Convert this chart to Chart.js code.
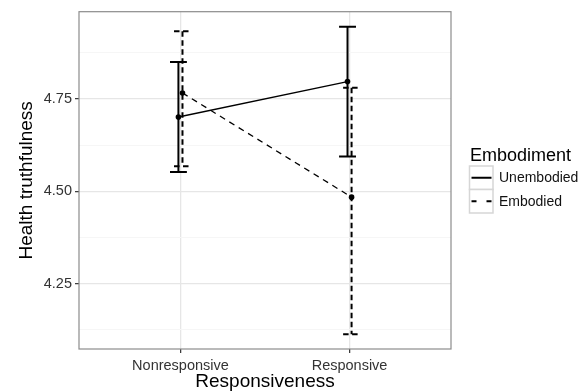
<!DOCTYPE html>
<html>
<head>
<meta charset="utf-8">
<script src="https://cdn.jsdelivr.net/npm/chart.js@4.4.1/dist/chart.umd.min.js"></script>
<style>
  html, body { margin: 0; padding: 0; background: #ffffff; }
  #wrap { width: 586px; height: 391px; }
</style>
</head>
<body>
<div id="wrap"><canvas id="c" width="586" height="391"></canvas></div>
<script>
// ---- data ----
const categories = ['Nonresponsive', 'Responsive'];
const seriesNames = ['Unembodied', 'Embodied'];
const unembodiedMean = [4.701, 4.797];
const unembodiedLow  = [4.552, 4.594];
const unembodiedHigh = [4.850, 4.945];
const embodiedMean   = [4.766, 4.484];
const embodiedLow    = [4.568, 4.113];
const embodiedHigh   = [4.933, 4.780];
const yTicks      = [4.25, 4.50, 4.75];
const yMinorTicks = [4.125, 4.375, 4.625, 4.875];
const legendTitle = 'Embodiment';
const xTitle = 'Responsiveness';
const yTitle = 'Health truthfulness';

// ---- style constants ----
const FONT = "'Liberation Sans', Arial, Helvetica, sans-serif";
const DODGE = 0.012;
const CAP_HALF = 0.05;
const ERR_DASH = [5.5, 3.5];
const LINE_DASH = [6, 5];

const series = [
  { name: seriesNames[0], mean: unembodiedMean, low: unembodiedLow, high: unembodiedHigh, off: -DODGE, dash: [] },
  { name: seriesNames[1], mean: embodiedMean, low: embodiedLow, high: embodiedHigh, off: DODGE, dash: LINE_DASH }
];

const errorBarPlugin = {
  id: 'errorBars',
  beforeDatasetsDraw(chart) {
    const { ctx, scales: { x, y }, chartArea } = chart;
    ctx.save();
    ctx.beginPath();
    ctx.rect(chartArea.left, chartArea.top, chartArea.right - chartArea.left, chartArea.bottom - chartArea.top);
    ctx.clip();
    ctx.strokeStyle = '#000';
    ctx.lineWidth = 2;
    series.forEach((s, si) => {
      ctx.setLineDash(si === 1 ? ERR_DASH : []);
      categories.forEach((c, i) => {
        const xc = i + 1 + s.off;
        const px = x.getPixelForValue(xc);
        const pl = x.getPixelForValue(xc - CAP_HALF);
        const pr = x.getPixelForValue(xc + CAP_HALF);
        const pt = y.getPixelForValue(s.high[i]);
        const pb = y.getPixelForValue(s.low[i]);
        ctx.beginPath();
        ctx.moveTo(px, pt); ctx.lineTo(px, pb);
        ctx.moveTo(pl, pt); ctx.lineTo(pr, pt);
        ctx.moveTo(pl, pb); ctx.lineTo(pr, pb);
        ctx.stroke();
      });
    });
    ctx.restore();
  },
  afterDraw(chart) {
    const { ctx, chartArea } = chart;
    ctx.save();
    // panel border
    ctx.strokeStyle = '#8c8c8c';
    ctx.lineWidth = 1.2;
    ctx.strokeRect(chartArea.left, chartArea.top, chartArea.right - chartArea.left, chartArea.bottom - chartArea.top);
    // legend
    const lx = 469.5, ly = 166, key = 23.5;
    ctx.fillStyle = '#000';
    ctx.font = "18px " + FONT;
    ctx.textBaseline = 'alphabetic';
    ctx.textAlign = 'left';
    ctx.fillText(legendTitle, 470, 161);
    series.forEach((s, si) => {
      const top = ly + si * key;
      ctx.setLineDash([]);
      ctx.fillStyle = '#fff';
      ctx.fillRect(lx, top, key, key);
      ctx.strokeStyle = '#d6d6d6';
      ctx.lineWidth = 1.5;
      ctx.strokeRect(lx, top, key, key);
      ctx.strokeStyle = '#000';
      ctx.lineWidth = 2;
      ctx.setLineDash(si === 1 ? [5, 10] : []);
      ctx.beginPath();
      ctx.moveTo(lx + 2, top + key / 2);
      ctx.lineTo(lx + key - 1.5, top + key / 2);
      ctx.stroke();
      ctx.setLineDash([]);
      ctx.fillStyle = '#111';
      ctx.font = "14px " + FONT;
      ctx.textBaseline = 'middle';
      ctx.fillText(s.name, 499, top + key / 2 + 0.5);
    });
    ctx.restore();
  }
};

const isMajorY = v => yTicks.some(t => Math.abs(t - v) < 1e-9);

new Chart(document.getElementById('c'), {
  type: 'scatter',
  data: {
    datasets: series.map(s => ({
      label: s.name,
      data: categories.map((c, i) => ({ x: i + 1 + s.off, y: s.mean[i] })),
      showLine: true,
      borderColor: '#000',
      backgroundColor: '#000',
      borderWidth: 1.3,
      borderDash: s.dash,
      pointRadius: 2.8,
      pointHoverRadius: 2.8,
      pointBorderWidth: 0
    }))
  },
  options: {
    responsive: false,
    animation: false,
    devicePixelRatio: 1,
    layout: { padding: { left: 0, right: 135, top: 10, bottom: 0 } },
    plugins: { legend: { display: false }, tooltip: { enabled: false } },
    scales: {
      x: {
        type: 'linear',
        min: 0.4, max: 2.6,
        afterBuildTicks: s => { s.ticks = categories.map((c, i) => ({ value: i + 1 })); },
        afterFit: s => { s.height = 42; },
        ticks: {
          callback: (v, i) => categories[i],
          font: { family: FONT, size: 14.5 },
          color: '#333',
          padding: 4,
          maxRotation: 0,
          autoSkip: false
        },
        grid: { color: '#e6e6e6', lineWidth: 1.3, tickColor: '#333', tickLength: 4, tickWidth: 1.2 },
        border: { display: false },
        title: {
          display: true, text: xTitle, color: '#000',
          font: { family: FONT, size: 19, lineHeight: 1 },
          padding: { top: 0, bottom: 0 }
        }
      },
      y: {
        min: 4.073, max: 4.986,
        afterBuildTicks: s => { s.ticks = yMinorTicks.concat(yTicks).sort((a, b) => a - b).map(v => ({ value: v })); },
        afterFit: s => { s.width = 79; },
        ticks: {
          callback: v => isMajorY(v) ? v.toFixed(2) : '',
          font: { family: FONT, size: 14.5 },
          color: '#333',
          padding: 3,
          autoSkip: false
        },
        grid: {
          color: c => isMajorY(c.tick.value) ? '#e6e6e6' : '#f6f6f6',
          lineWidth: c => isMajorY(c.tick.value) ? 1.3 : 1,
          tickColor: c => isMajorY(c.tick.value) ? '#333' : 'rgba(0,0,0,0)',
          tickLength: 4,
          tickWidth: 1.2
        },
        border: { display: false },
        title: {
          display: true, text: yTitle, color: '#000',
          font: { family: FONT, size: 19, lineHeight: 1 },
          padding: { top: 17, bottom: 0 }
        }
      }
    }
  },
  plugins: [errorBarPlugin]
});
</script>
</body>
</html>
